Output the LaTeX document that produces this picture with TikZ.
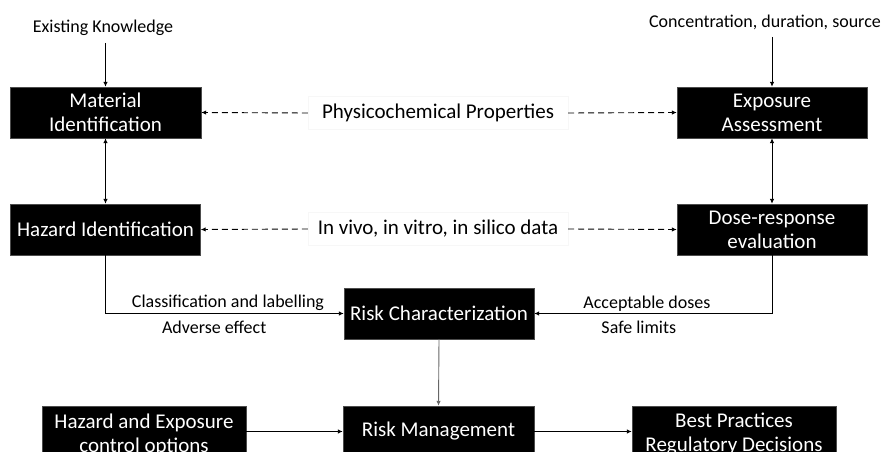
\documentclass[tikz,border=0pt]{standalone}
\usepackage{fontspec}
\setmainfont{Carlito}
\usetikzlibrary{arrows.meta}
\begin{document}
\begin{tikzpicture}[x=1pt,y=-1pt,
  blackbox/.style={fill=black,draw=black!70,text=white,align=center,
    inner sep=0pt,font=\fontsize{21}{24}\selectfont},
  midlabel/.style={fill=white,draw=black!3,inner sep=0pt,
    font=\fontsize{21}{24}\selectfont},
  smalllabel/.style={inner sep=0pt,font=\fontsize{18}{21}\selectfont},
  tip/.style={-{Latex[length=5pt,width=4.5pt]}},
  biarrow/.style={{Latex[length=5pt,width=4.5pt]}-{Latex[length=5pt,width=4.5pt]}},
  link/.style={line width=0.9pt,black},
  dashlink/.style={line width=0.9pt,black,dash pattern=on 6pt off 4pt}]
\useasboundingbox (0,0) rectangle (881,452);

% source texts
\node[smalllabel] (ek) at (103,28) {Existing Knowledge};
\node[smalllabel] (cds) at (765,22) {Concentration, duration, source};

% black boxes
\node[blackbox,minimum width=191pt,minimum height=51pt] (mat) at (105.5,112.5) {Material\\Identification};
\node[blackbox,minimum width=190pt,minimum height=51pt] (expo) at (772,112.5) {Exposure\\Assessment};
\node[blackbox,minimum width=190pt,minimum height=51pt] (haz) at (105.5,229.5) {Hazard Identification};
\node[blackbox,minimum width=190pt,minimum height=51pt] (dose) at (772,229.5) {Dose-response\\evaluation};
\node[blackbox,minimum width=190pt,minimum height=51pt] (rc) at (439,313.5) {Risk Characterization};
% bottom row runs past the lower edge of the page
\node[blackbox,minimum width=204pt,minimum height=57pt] (hec) at (144,434.5) {Hazard and Exposure\\control options};
\node[blackbox,minimum width=191pt,minimum height=51pt] (rm) at (438.5,431.5) {Risk Management};
\node[blackbox,minimum width=204pt,minimum height=57pt] (bp) at (734,434.5) {Best Practices\\Regulatory Decisions};

% dashed exchange labels
\node[midlabel,minimum width=260pt,minimum height=33pt] (pp) at (438,113) {Physicochemical Properties};
\node[midlabel,minimum width=260pt,minimum height=33pt] (iv) at (438,229) {In vivo, in vitro, in silico data};

% input arrows
\coordinate (ekb) at (105.5,43);
\coordinate (cdsb) at (772,37);
\draw[link,tip] (ekb) -- (mat.north);
\draw[link,tip] (cdsb) -- (expo.north);

% vertical double arrows
\draw[link,biarrow] (mat.south) -- (haz.north);
\draw[link,biarrow] (expo.south) -- (dose.north);

% dashed arrows
\draw[dashlink,tip] (pp.west) -- (mat.east);
\draw[dashlink,tip] (pp.east) -- (expo.west);
\draw[dashlink,tip] (iv.west) -- (haz.east);
\draw[dashlink,tip] (iv.east) -- (dose.west);

% into risk characterization
\draw[link,tip] (haz.south) |- (rc.west)
  node[pos=0.757,above=2pt,smalllabel] (cl) {Classification and labelling}
  node[pos=0.728,below=7pt,smalllabel] (ae) {Adverse effect};
\draw[link,tip] (dose.south) |- (rc.east)
  node[pos=0.763,above=2pt,smalllabel] (ad) {Acceptable doses}
  node[pos=0.78,below=7pt,smalllabel] (sl) {Safe limits};

% risk management
\draw[line width=0.9pt,black!60,tip] (rc.south) -- (rm.north);
\draw[link,tip] ([yshift=3pt]hec.east) -- (rm.west);
\draw[link,tip] (rm.east) -- ([yshift=3pt]bp.west);
\end{tikzpicture}
\end{document}
